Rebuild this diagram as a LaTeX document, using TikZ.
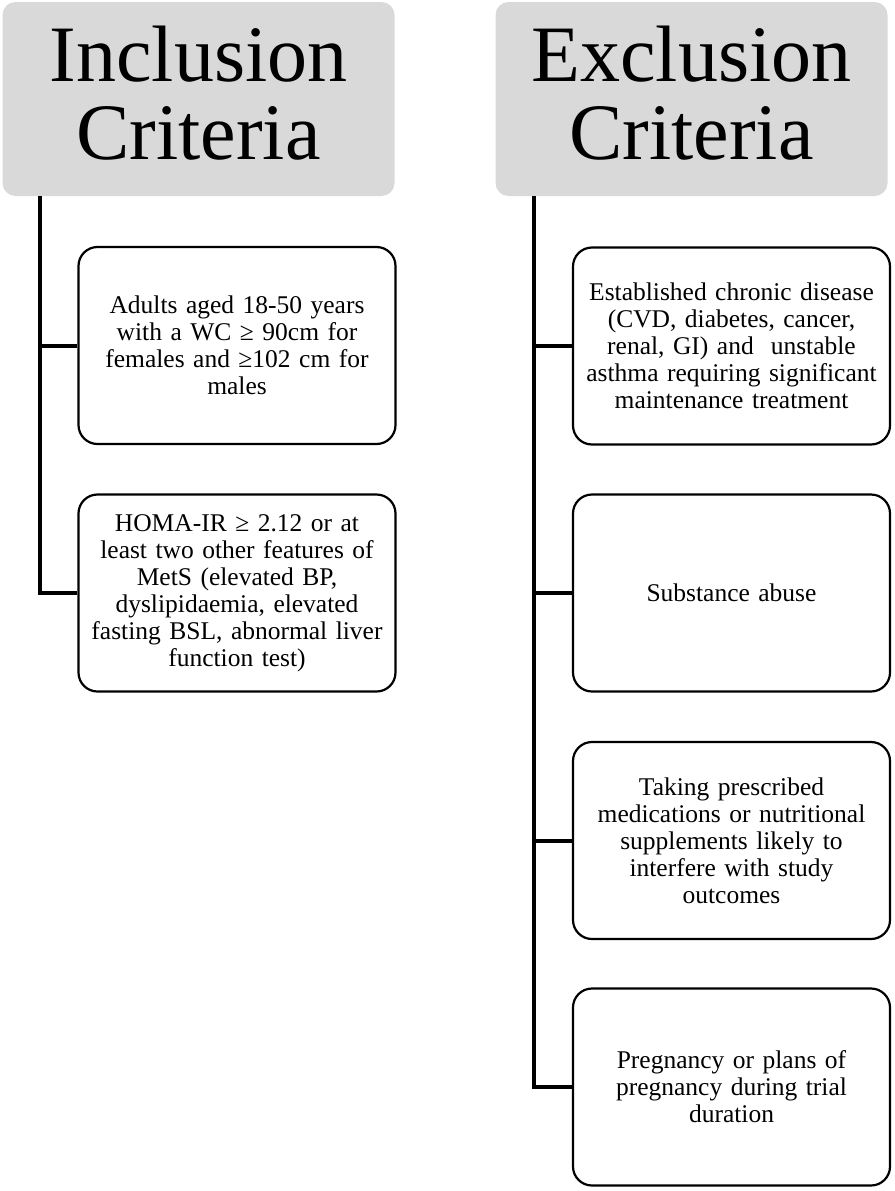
\documentclass[tikz,border=0pt]{standalone}
\usepackage{fontspec}
\setmainfont{Liberation Serif}
\begin{document}
\begin{tikzpicture}[x=1pt,y=-1pt,
  head/.style={fill=headgray, draw=none, rounded corners=13pt, inner sep=0pt,
    minimum width=392pt, minimum height=194pt, align=center, text depth=12pt,
    font=\fontsize{80}{78}\selectfont},
  crit/.style={draw=black, line width=2.2pt, rounded corners=19pt, fill=white,
    minimum width=317pt, minimum height=197pt, inner sep=0pt, align=center,
    text width=305pt, font=\fontsize{25.5}{27}\selectfont},
  conn/.style={draw=black, line width=4pt}]
\definecolor{headgray}{HTML}{D9D9D9}
\useasboundingbox (0,0) rectangle (894,1191);
% headers
\node[head] (hin) at (198.5,99) {Inclusion\\Criteria};
\node[head] (hex) at (691.5,99) {Exclusion\\Criteria};
% spine start points
\coordinate (lt) at (40,196);
\coordinate (rt) at (534,196);
% inclusion boxes
\node[crit] (i1) at (237,345.5) {Adults aged 18-50 years\\with a WC ≥ 90cm for\\females and ≥102 cm for\\males};
\node[crit] (i2) at (237,593) {HOMA-IR ≥ 2.12 or at\\least two other features of\\MetS (elevated BP,\\dyslipidaemia, elevated\\fasting BSL, abnormal liver\\function test)};
% exclusion boxes
\node[crit] (e1) at (731.5,346) {Established chronic disease\\(CVD, diabetes, cancer,\\renal, GI) and~ unstable\\asthma requiring significant\\maintenance treatment};
\node[crit] (e2) at (731.5,593) {Substance abuse};
\node[crit] (e3) at (731.5,840.5) {Taking prescribed\\medications or nutritional\\supplements likely to\\interfere with study\\outcomes};
\node[crit] (e4) at (731.5,1087) {Pregnancy or plans of\\pregnancy during trial\\duration};
% connectors
\draw[conn] (lt) |- (i1.west);
\draw[conn] (lt) |- (i2.west);
\draw[conn] (rt) |- (e1.west);
\draw[conn] (rt) |- (e2.west);
\draw[conn] (rt) |- (e3.west);
\draw[conn] (rt) |- (e4.west);
\end{tikzpicture}
\end{document}
